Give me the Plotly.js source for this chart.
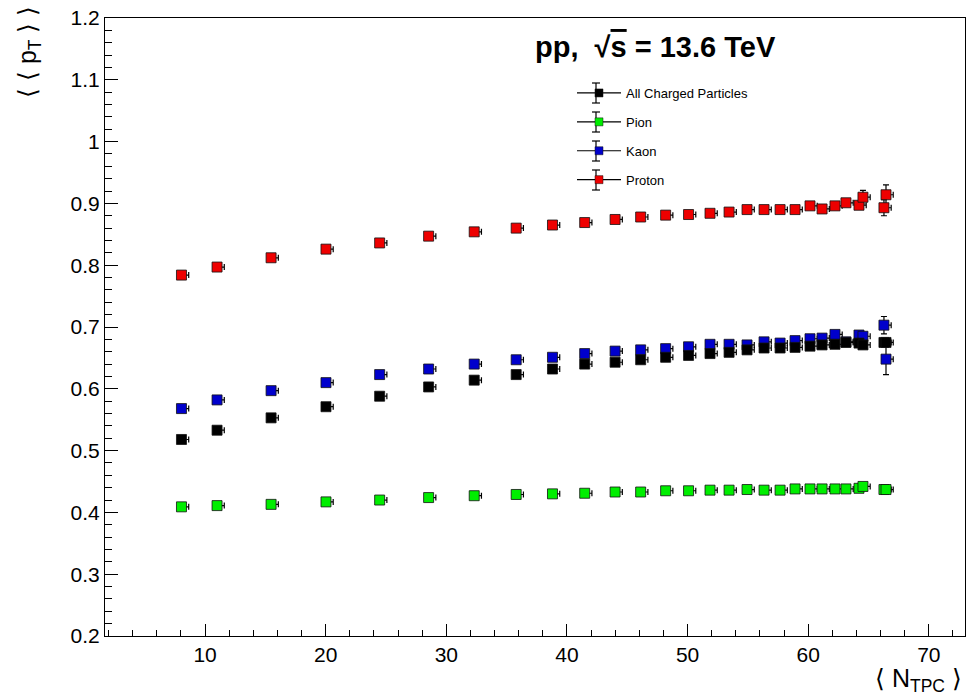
<!DOCTYPE html>
<html>
<head>
<meta charset="utf-8">
<script src="https://cdn.plot.ly/plotly-3.0.1.min.js"></script>
<style>html,body{margin:0;padding:0;background:#fff;}#chart{width:967px;height:700px;}</style>
</head>
<body>
<div id="chart"></div>
<script>
// <N_TPC> bin positions
const nTPC = [8.04, 10.99, 15.47, 20.02, 24.47, 28.53, 32.31, 35.79, 38.80, 41.47,
              43.99, 46.11, 48.18, 50.08, 51.86, 53.44, 54.93, 56.34, 57.67, 58.91,
              60.15, 61.15, 62.22, 63.13, 64.21, 64.54, 66.28, 66.45];

const chargedPt = [0.518, 0.533, 0.553, 0.571, 0.588, 0.603, 0.614, 0.623, 0.632, 0.640,
                   0.643, 0.647, 0.651, 0.654, 0.657, 0.659, 0.663, 0.666, 0.666, 0.667,
                   0.669, 0.671, 0.672, 0.675, 0.674, 0.671, 0.675, 0.675];
const chargedErr = [0.002, 0.002, 0.002, 0.002, 0.002, 0.002, 0.002, 0.002, 0.002, 0.002,
                    0.002, 0.002, 0.002, 0.002, 0.002, 0.002, 0.002, 0.002, 0.002, 0.002,
                    0.002, 0.002, 0.002, 0.002, 0.003, 0.003, 0.004, 0.004];

const pionPt = [0.409, 0.411, 0.413, 0.417, 0.420, 0.424, 0.427, 0.429, 0.430, 0.431,
                0.433, 0.433, 0.435, 0.435, 0.436, 0.436, 0.437, 0.436, 0.436, 0.438,
                0.438, 0.438, 0.438, 0.438, 0.439, 0.442, 0.437, 0.437];
const pionErr = [0.001, 0.001, 0.001, 0.001, 0.001, 0.001, 0.001, 0.001, 0.001, 0.001,
                 0.001, 0.001, 0.001, 0.001, 0.001, 0.001, 0.001, 0.001, 0.001, 0.001,
                 0.001, 0.001, 0.001, 0.001, 0.002, 0.002, 0.002, 0.002];

const kaonPt = [0.568, 0.582, 0.597, 0.610, 0.623, 0.632, 0.640, 0.647, 0.651, 0.657,
                0.661, 0.663, 0.665, 0.668, 0.672, 0.672, 0.671, 0.676, 0.674, 0.678,
                0.681, 0.682, 0.688, 0.676, 0.687, 0.685, 0.703, 0.648];
const kaonErr = [0.002, 0.002, 0.002, 0.002, 0.002, 0.002, 0.002, 0.002, 0.002, 0.002,
                 0.002, 0.002, 0.002, 0.002, 0.002, 0.002, 0.002, 0.002, 0.002, 0.002,
                 0.002, 0.002, 0.003, 0.003, 0.004, 0.004, 0.014, 0.025];

const protonPt = [0.784, 0.797, 0.812, 0.826, 0.836, 0.847, 0.854, 0.860, 0.865, 0.869,
                  0.874, 0.878, 0.881, 0.882, 0.884, 0.886, 0.890, 0.890, 0.890, 0.890,
                  0.896, 0.891, 0.896, 0.901, 0.897, 0.910, 0.893, 0.914];
const protonErr = [0.002, 0.002, 0.002, 0.002, 0.002, 0.002, 0.002, 0.002, 0.002, 0.002,
                   0.002, 0.002, 0.002, 0.002, 0.002, 0.002, 0.002, 0.002, 0.002, 0.002,
                   0.002, 0.003, 0.003, 0.004, 0.005, 0.011, 0.013, 0.016];

const seriesNames = ["All Charged Particles", "Pion", "Kaon", "Proton"];
const seriesColors = ["#000000", "#00ee00", "#0000cc", "#ee0000"];
const seriesY = [chargedPt, pionPt, kaonPt, protonPt];
const seriesErr = [chargedErr, pionErr, kaonErr, protonErr];

const drawOrder = [2, 0, 1, 3];
const traces = [];
drawOrder.forEach(i => {
  traces.push({
    type: "scatter", mode: "markers", x: nTPC, y: seriesY[i],
    name: seriesNames[i], showlegend: false, hoverinfo: "x+y",
    marker: {symbol: "square", size: 10, color: seriesColors[i], line: {color: "#111", width: 0.8}},
    error_y: {type: "data", array: seriesErr[i], color: "#000", thickness: 1.2, width: 3},
    error_x: {type: "constant", symmetric: false, value: 0.6, valueminus: 0, color: "#000", thickness: 1.2, width: 3}
  });
});
// legend entries
seriesNames.forEach((nm, i) => {
  traces.push({
    type: "scatter", mode: "lines+markers", x: [null], y: [null], name: nm,
    legendgroup: "g" + i, showlegend: true,
    line: {color: "#000", width: 1.2},
    marker: {symbol: "square", size: 8, color: seriesColors[i], line: {color: "#111", width: 0.5}}
  });
});

// plot-area geometry (pixels) used to place legend decorations
const M = {l: 105, r: 2, t: 18, b: 64};
const W = 967, H = 700;
const pw = W - M.l - M.r, ph = H - M.t - M.b;
const px2x = p => (p - M.l) / pw;
const px2y = p => (H - M.b - p) / ph;

// vertical error-bar glyphs in legend (decoration)
const legRows = [93, 122, 151, 180];
const legX = 596;
const shapes = [];
legRows.forEach(r => {
  shapes.push({type: "line", xref: "paper", yref: "paper", x0: px2x(legX), x1: px2x(legX), y0: px2y(r - 10), y1: px2y(r + 10), line: {color: "#000", width: 1.2}});
  shapes.push({type: "line", xref: "paper", yref: "paper", x0: px2x(legX - 4), x1: px2x(legX + 4), y0: px2y(r - 10), y1: px2y(r - 10), line: {color: "#000", width: 1.2}});
  shapes.push({type: "line", xref: "paper", yref: "paper", x0: px2x(legX - 4), x1: px2x(legX + 4), y0: px2y(r + 10), y1: px2y(r + 10), line: {color: "#000", width: 1.2}});
});

const font = "Liberation Sans, Arial, Helvetica, sans-serif";
const layout = {
  width: W, height: H,
  margin: M,
  paper_bgcolor: "#fff", plot_bgcolor: "#fff",
  font: {family: font, color: "#000"},
  showlegend: true,
  legend: {x: px2x(572), y: px2y(78), xanchor: "left", yanchor: "top", bgcolor: "rgba(0,0,0,0)",
           font: {family: font, size: 13, color: "#000"}, tracegroupgap: 9, traceorder: "grouped",
           itemwidth: 44},
  shapes: shapes,
  xaxis: {
    range: [1.7, 73.0], showgrid: false, zeroline: false,
    showline: true, linecolor: "#000", linewidth: 1, mirror: true,
    ticks: "inside", ticklen: 12, tickwidth: 1, tickcolor: "#000",
    tick0: 0, dtick: 10,
    minor: {dtick: 2, ticks: "inside", ticklen: 6, tickcolor: "#000", tickwidth: 1},
    tickfont: {family: font, size: 21, color: "#000"}
  },
  yaxis: {
    range: [0.2, 1.2], showgrid: false, zeroline: false,
    showline: true, linecolor: "#000", linewidth: 1, mirror: true,
    ticks: "inside", ticklen: 13, tickwidth: 1, tickcolor: "#000",
    tick0: 0.2, dtick: 0.1,
    minor: {dtick: 0.02, ticks: "inside", ticklen: 7, tickcolor: "#000", tickwidth: 1},
    tickfont: {family: font, size: 21, color: "#000"}
  },
  annotations: [
    {text: "<b>pp,  √<span style=\"text-decoration:overline\">s</span> = 13.6 TeV</b>",
     xref: "paper", yref: "paper", x: px2x(655), y: px2y(47), xanchor: "center", yanchor: "middle",
     showarrow: false, font: {family: font, size: 29, color: "#000"}},
    {text: "⟨ ⟨ p<sub>T</sub> ⟩ ⟩", textangle: -90,
     xref: "paper", yref: "paper", x: px2x(29), y: px2y(4), xanchor: "center", yanchor: "top",
     showarrow: false, font: {family: font, size: 25, color: "#000"}},
    {text: "⟨ N<sub>TPC</sub> ⟩",
     xref: "paper", yref: "paper", x: px2x(964), y: px2y(662), xanchor: "right", yanchor: "top",
     showarrow: false, font: {family: font, size: 25, color: "#000"}}
  ]
};

Plotly.newPlot("chart", traces, layout, {displayModeBar: false, staticPlot: true});
</script>
</body>
</html>
